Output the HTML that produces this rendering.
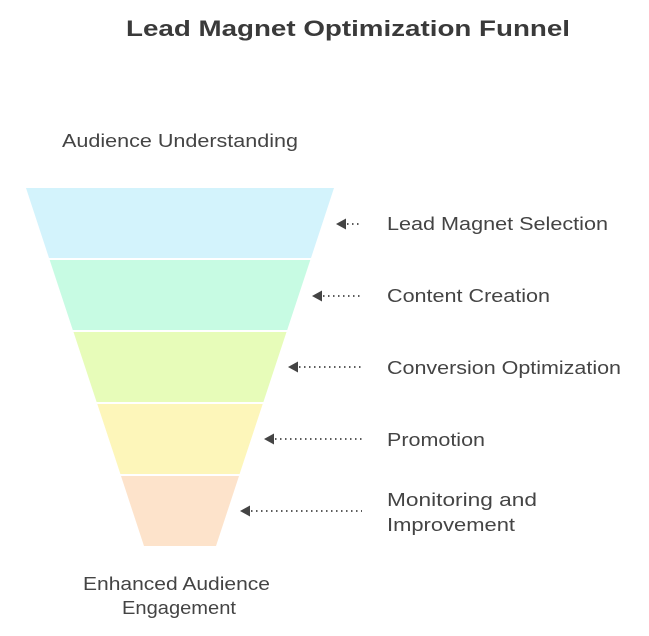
<!DOCTYPE html>
<html><head><meta charset="utf-8"><style>
html,body{margin:0;padding:0;background:#fff;}
body{width:649px;height:631px;overflow:hidden;font-family:"Liberation Sans",sans-serif;}
</style></head><body>
<svg width="649" height="631" xmlns="http://www.w3.org/2000/svg" font-family="Liberation Sans, sans-serif" fill="#444">
<text x="126" y="36" textLength="444" lengthAdjust="spacingAndGlyphs" font-size="22" font-weight="bold" fill="#3a3a3a">Lead Magnet Optimization Funnel</text>
<text x="62" y="147" textLength="236" lengthAdjust="spacingAndGlyphs" font-size="18">Audience Understanding</text>
<polygon points="26,188 334,188 311,258 49,258" fill="#d3f3fc"/>
<polygon points="49.7,260 310.3,260 287.2,330 72.8,330" fill="#c7fbe3"/>
<polygon points="73.5,332 286.5,332 263.4,402 96.6,402" fill="#e7fcb9"/>
<polygon points="97.3,404 262.7,404 239.6,474 120.4,474" fill="#fdf6ba"/>
<polygon points="121,476 239,476 216,546 144,546" fill="#fde3cb"/>
<g stroke="#444" stroke-width="1.8" stroke-dasharray="1.5 3.5">
<line x1="347" y1="224" x2="362" y2="224"/>
<line x1="323" y1="296" x2="362" y2="296"/>
<line x1="299" y1="367" x2="362" y2="367"/>
<line x1="275" y1="439" x2="362" y2="439"/>
<line x1="251" y1="511" x2="362" y2="511"/>
</g>
<polygon points="336,224 346,218.5 346,229.5"/>
<polygon points="312,296 322,290.5 322,301.5"/>
<polygon points="288,367 298,361.5 298,372.5"/>
<polygon points="264,439 274,433.5 274,444.5"/>
<polygon points="240,511 250,505.5 250,516.5"/>
<g font-size="18" lengthAdjust="spacingAndGlyphs">
<text x="387" y="230" textLength="221" lengthAdjust="spacingAndGlyphs">Lead Magnet Selection</text>
<text x="387" y="302" textLength="163" lengthAdjust="spacingAndGlyphs">Content Creation</text>
<text x="387" y="374" textLength="234" lengthAdjust="spacingAndGlyphs">Conversion Optimization</text>
<text x="387" y="446" textLength="98" lengthAdjust="spacingAndGlyphs">Promotion</text>
<text x="387" y="506" textLength="150" lengthAdjust="spacingAndGlyphs">Monitoring and</text>
<text x="387" y="531" textLength="128" lengthAdjust="spacingAndGlyphs">Improvement</text>
<text x="83" y="590" textLength="187" lengthAdjust="spacingAndGlyphs">Enhanced Audience</text>
<text x="122" y="614" textLength="114" lengthAdjust="spacingAndGlyphs">Engagement</text>
</g>
</svg>
</body></html>
